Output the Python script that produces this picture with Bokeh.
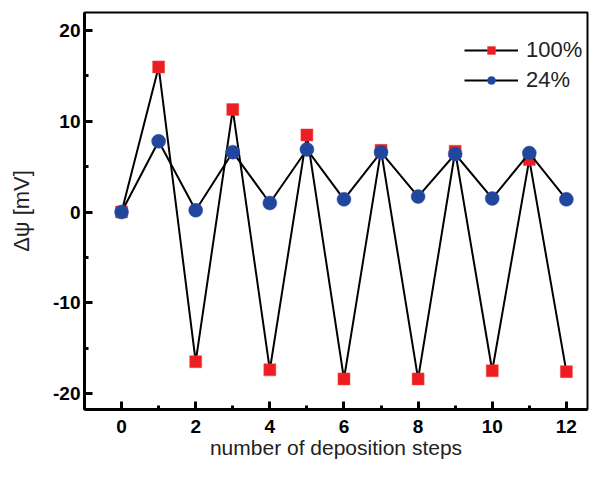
from bokeh.plotting import figure
from bokeh.models import SingleIntervalTicker, Range1d, CustomJSTickFormatter
from bokeh.embed import file_html
from bokeh.resources import INLINE

steps = [0, 1, 2, 3, 4, 5, 6, 7, 8, 9, 10, 11, 12]
s100 = [0.0, 16.0, -16.5, 11.3, -17.4, 8.5, -18.4, 6.8, -18.4, 6.7, -17.5, 5.8, -17.6]
s24 = [0.0, 7.8, 0.2, 6.6, 1.0, 6.9, 1.4, 6.6, 1.7, 6.4, 1.5, 6.5, 1.4]
labels = ["100%", "24%"]
xlabel = "number of deposition steps"
ylabel = "Δψ [mV]"

FONT = "Liberation Sans"

p = figure(width=589, height=465, output_backend="svg", toolbar_location=None,
           x_range=Range1d(-1, 12.57), y_range=Range1d(-21.77, 22),
           min_border_left=84, min_border_right=2, min_border_top=12, min_border_bottom=56)

p.line(steps, s100, line_color="black", line_width=2, legend_label=labels[0])
p.scatter(steps, s100, marker="square", size=12, fill_color="#ee1d23", line_color="#f04a3a",
          line_width=0.5, legend_label=labels[0])
p.line(steps, s24, line_color="black", line_width=2, legend_label=labels[1])
p.scatter(steps, s24, marker="circle", size=14, fill_color="#21469b", line_color="#3355aa",
          line_width=0.5, legend_label=labels[1])

p.grid.visible = False
p.outline_line_color = "black"
p.outline_line_width = 2
p.background_fill_color = "white"
p.border_fill_color = "white"

p.xaxis.ticker = SingleIntervalTicker(interval=2, num_minor_ticks=2)
p.yaxis.ticker = SingleIntervalTicker(interval=10, num_minor_ticks=2)
fmt = CustomJSTickFormatter(code="return tick.toFixed(0);")

for ax in (p.xaxis[0], p.yaxis[0]):
    ax.formatter = fmt
    ax.axis_line_width = 3
    ax.axis_line_color = "black"
    ax.major_tick_in = 8
    ax.major_tick_out = 0
    ax.minor_tick_in = 4
    ax.minor_tick_out = 0
    ax.major_tick_line_color = "black"
    ax.minor_tick_line_color = "black"
    ax.major_tick_line_width = 3
    ax.minor_tick_line_width = 3
    ax.major_label_text_font = FONT
    ax.major_label_text_font_style = "bold"
    ax.major_label_text_font_size = "19px"
    ax.major_label_text_color = "black"
    ax.axis_label_text_font = FONT
    ax.axis_label_text_font_style = "normal"
    ax.axis_label_text_color = "#222222"

p.xaxis.axis_label = xlabel
p.xaxis.axis_label_text_font_size = "21px"
p.xaxis.major_label_standoff = 10
p.xaxis.axis_label_standoff = 0
p.yaxis.axis_label = ylabel
p.yaxis.axis_label_text_font_size = "22px"
p.yaxis.major_label_standoff = 4
p.yaxis.axis_label_standoff = 16

lg = p.legend[0]
lg.location = (380, 316)
lg.border_line_color = None
lg.background_fill_alpha = 0
lg.label_text_font = FONT
lg.label_text_font_size = "22px"
lg.label_text_color = "#222222"
lg.glyph_width = 54
lg.glyph_height = 20
lg.spacing = 4
lg.label_standoff = 8
lg.margin = 0
lg.padding = 4

open("out.html", "w").write(file_html(p, INLINE))
